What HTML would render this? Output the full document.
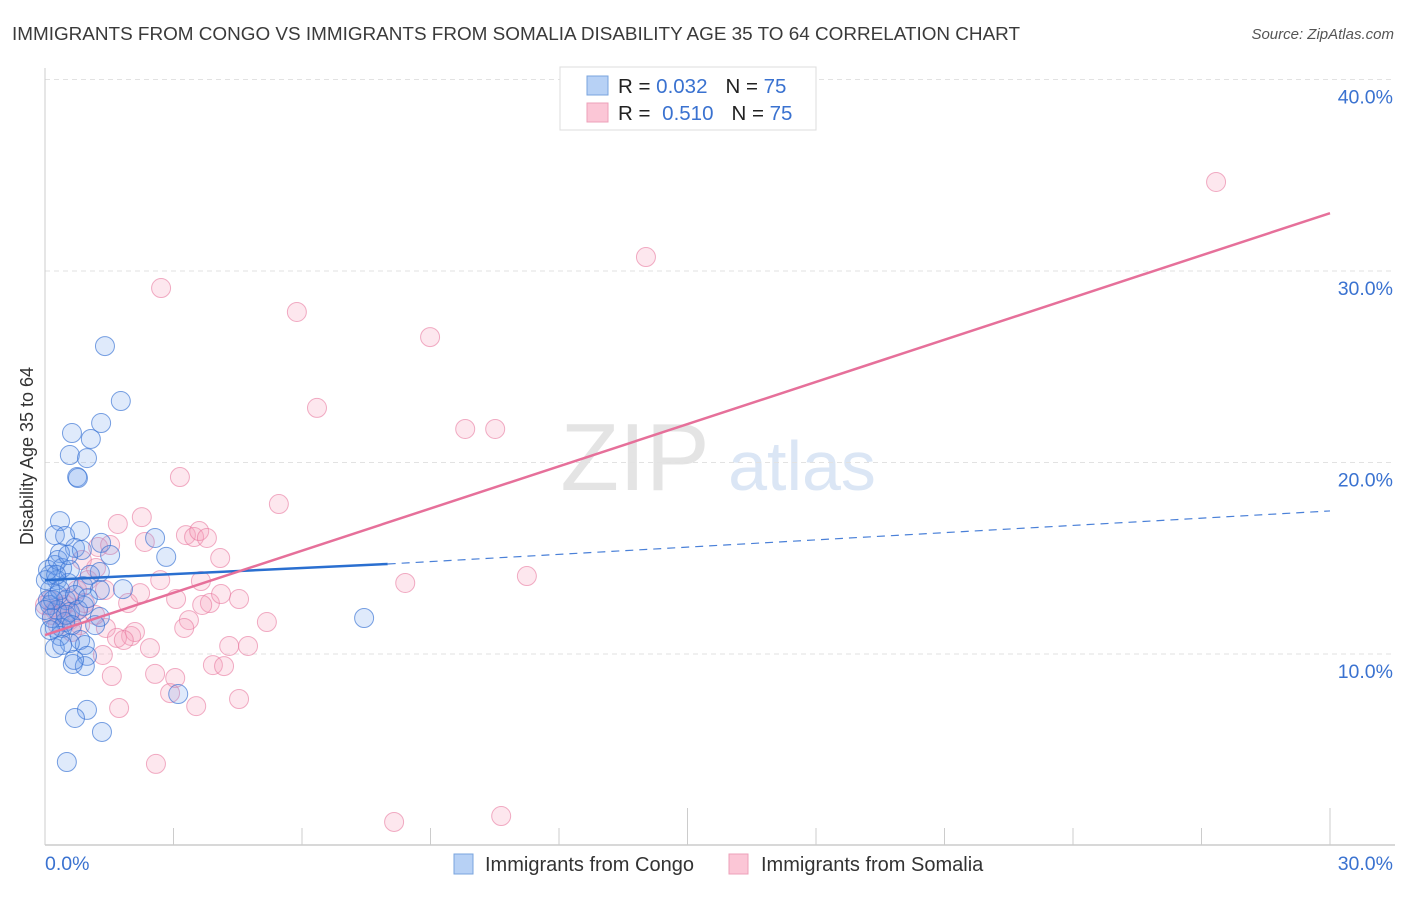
<!DOCTYPE html>
<html><head><meta charset="utf-8"><style>
body{margin:0;background:#fff;font-family:"Liberation Sans",sans-serif;}
svg text{font-family:"Liberation Sans",sans-serif;}
</style></head><body>
<svg id="chart" width="1406" height="892" xmlns="http://www.w3.org/2000/svg">
<text x="12" y="40" font-size="18.9" fill="#3a3a3a">IMMIGRANTS FROM CONGO VS IMMIGRANTS FROM SOMALIA DISABILITY AGE 35 TO 64 CORRELATION CHART</text>
<text x="1394" y="39" font-size="15" fill="#555" font-style="italic" text-anchor="end">Source: ZipAtlas.com</text>
<g>
<text x="635" y="490" font-size="96" fill="#e4e4e4" text-anchor="middle" font-family="Liberation Serif">ZIP</text>
<text x="802" y="490" font-size="70" fill="#dbe6f5" text-anchor="middle">atlas</text>
</g>
<g id="grid"></g><g id="axes"></g><g id="pts"></g><g id="lines"></g>
<text transform="translate(33,456) rotate(-90)" font-size="18" fill="#333" text-anchor="middle">Disability Age 35 to 64</text>
<g>
<rect x="560" y="67" width="256" height="63" fill="#fff" stroke="#ddd"/>
<rect x="587" y="76" width="21" height="19" fill="#b7d1f5" stroke="#7aa4de"/>
<rect x="587" y="103" width="21" height="19" fill="#fbc6d6" stroke="#eea0b9"/>
<text x="618" y="93" font-size="20.5" fill="#222">R = <tspan fill="#3a72d0">0.032</tspan><tspan dx="18">N = </tspan><tspan fill="#3a72d0">75</tspan></text>
<text x="618" y="120" font-size="20.5" fill="#222">R = <tspan dx="6" fill="#3a72d0">0.510</tspan><tspan dx="18">N = </tspan><tspan fill="#3a72d0">75</tspan></text>
</g>
<g>
<rect x="454" y="854" width="19" height="20" fill="#b7d1f5" stroke="#7aa4de"/>
<text x="485" y="871" font-size="20" fill="#333">Immigrants from Congo</text>
<rect x="729" y="854" width="19" height="20" fill="#fbc6d6" stroke="#eea0b9"/>
<text x="761" y="871" font-size="20" fill="#333">Immigrants from Somalia</text>
</g>
</svg>
<script>
const xTickLabels=["0.0%","30.0%"];
const yTicks=[10,20,30,40];
const yTickLabels=["10.0%","20.0%","30.0%","40.0%"];
const congoX=[1.40,1.77,1.31,0.63,1.07,0.58,0.98,0.75,0.77,0.35,0.23,0.47,0.82,2.57,1.31,0.70,0.35,0.86,2.83,1.28,0.23,0.40,0.12,0.28,0.54,0.89,1.82,0.12,0.30,0.49,0.12,0.91,0.28,0.58,1.28,0.47,0.23,0.40,0.35,0.82,0.93,0.58,0.23,0.98,0.65,0.93,0.68,7.45,3.11,0.98,0.70,1.33,0.51,0.02,0.07,0.16,0.35,0.70,1.05,1.52,0.07,0.19,0.49,1.17,0.77,0.30,0.58,1.28,0.00,1.00,0.40,0.12,0.63,0.26,0.54];
const congoY=[26.08,23.21,22.06,21.54,21.23,20.39,20.23,19.24,19.19,16.94,16.21,16.16,16.42,16.06,15.80,15.54,15.27,15.43,15.07,14.28,14.65,14.49,14.13,13.86,13.71,13.55,13.39,13.34,13.08,12.82,12.56,12.51,12.30,12.19,11.93,11.67,11.36,11.36,10.94,10.73,10.47,10.57,10.31,9.90,9.48,9.37,9.69,11.88,7.91,7.08,6.66,5.93,4.36,13.86,12.82,11.88,13.34,13.08,14.13,15.17,14.39,12.82,12.04,11.51,12.30,14.91,14.39,13.34,12.30,12.92,10.47,11.25,11.51,14.13,15.17];
const somaliaX=[27.34,14.03,2.71,5.88,8.99,6.35,9.81,10.51,3.15,5.46,2.26,1.70,3.29,3.48,3.60,3.78,2.33,4.09,1.24,2.69,8.41,11.25,3.64,3.06,1.94,3.85,4.53,4.11,3.67,2.22,3.36,3.25,5.18,1.42,2.01,2.10,2.45,1.68,1.84,4.30,4.74,1.35,3.92,4.18,3.04,2.57,1.56,2.92,4.53,3.53,1.73,2.59,8.15,10.65,0.23,0.35,0.47,0.58,0.70,0.82,0.12,0.30,0.54,0.93,1.17,0.16,0.40,0.63,1.00,1.19,0.86,1.40,1.52,0.00,0.75];
const somaliaY=[34.65,30.73,29.11,27.86,26.55,22.85,21.75,21.75,19.24,17.83,17.15,16.79,16.21,16.11,16.42,16.06,15.85,15.01,15.59,13.86,13.71,14.07,13.81,12.87,12.66,12.66,12.87,13.13,12.56,13.18,11.77,11.36,11.67,11.36,10.94,11.15,10.31,10.84,10.73,10.42,10.42,9.95,9.42,9.37,8.75,8.96,8.85,7.96,7.65,7.28,7.18,4.26,1.23,1.54,12.30,12.04,12.56,11.77,12.19,11.51,12.82,11.51,12.92,12.66,12.04,12.04,12.45,11.15,13.86,14.49,14.91,13.34,15.69,12.56,13.34];
const congoTrendX=[0,8,30];
const congoTrendY=[13.86,14.70,17.47];
const somaliaTrendX=[0,30];
const somaliaTrendY=[10.99,33.02];

const X0=45,X1=1330,Y0=845.5,YPER=19.15;
const sx=v=>X0+(X1-X0)*v/30;
const sy=v=>Y0-v*YPER;
const NS="http://www.w3.org/2000/svg";
function mk(tag,attrs,parent){const e=document.createElementNS(NS,tag);for(const k in attrs)e.setAttribute(k,attrs[k]);parent.appendChild(e);return e;}
const grid=document.getElementById('grid'),axes=document.getElementById('axes'),pts=document.getElementById('pts'),lines=document.getElementById('lines');
yTicks.forEach((t,i)=>{
  const l=mk('line',{x1:X0,x2:1395,y1:sy(t),y2:sy(t),stroke:'#e2e2e2','stroke-dasharray':'5,4'},grid);
  
  
  const tx=mk('text',{x:1393,y:sy(t)+24,'font-size':19.5,fill:'#3a72d0','text-anchor':'end'},axes);
  tx.textContent=yTickLabels[i];
  
  
});
const la=mk('line',{x1:X0,x2:X0,y1:68,y2:845,stroke:'#ccc'},axes);


const xa=mk('line',{x1:X0,x2:1395,y1:845,y2:845,stroke:'#ccc','stroke-width':1.5},axes);


for(let i=1;i<=10;i++){
  const v=i*3;const major=(i==5||i==10);
  const t=mk('line',{x1:sx(v),x2:sx(v),y1:major?808:828,y2:845,stroke:'#ccc'},axes);
  
  
}
[[0,'start',45],[30,'end',1393]].forEach((d,i)=>{
  const tx=mk('text',{x:d[2],y:870,'font-size':19.5,fill:'#3a72d0','text-anchor':d[1]},axes);
  tx.textContent=xTickLabels[i];
  
  
});
function dots(xs,ys,fill,stroke,name){
  xs.forEach((x,i)=>{
    const c=mk('circle',{cx:sx(x),cy:sy(ys[i]),r:9.5,fill:fill,stroke:stroke,'stroke-width':1},pts);
    
    
  });
}
dots(somaliaX,somaliaY,'rgba(246,160,188,0.25)','rgba(232,120,158,0.6)','somalia-point');
dots(congoX,congoY,'rgba(110,160,235,0.22)','rgba(50,110,210,0.65)','congo-point');
const bs=mk('line',{x1:sx(congoTrendX[0]),y1:sy(congoTrendY[0]),x2:sx(congoTrendX[1]),y2:sy(congoTrendY[1]),stroke:'#2a6fd0','stroke-width':2.5},lines);


const bd=mk('line',{x1:sx(congoTrendX[1]),y1:sy(congoTrendY[1]),x2:sx(congoTrendX[2]),y2:sy(congoTrendY[2]),stroke:'#4a80d8','stroke-width':1.2,'stroke-dasharray':'8,6'},lines);


const ps=mk('line',{x1:sx(somaliaTrendX[0]),y1:sy(somaliaTrendY[0]),x2:sx(somaliaTrendX[1]),y2:sy(somaliaTrendY[1]),stroke:'#e6709a','stroke-width':2.5},lines);


</script>
</body></html>
